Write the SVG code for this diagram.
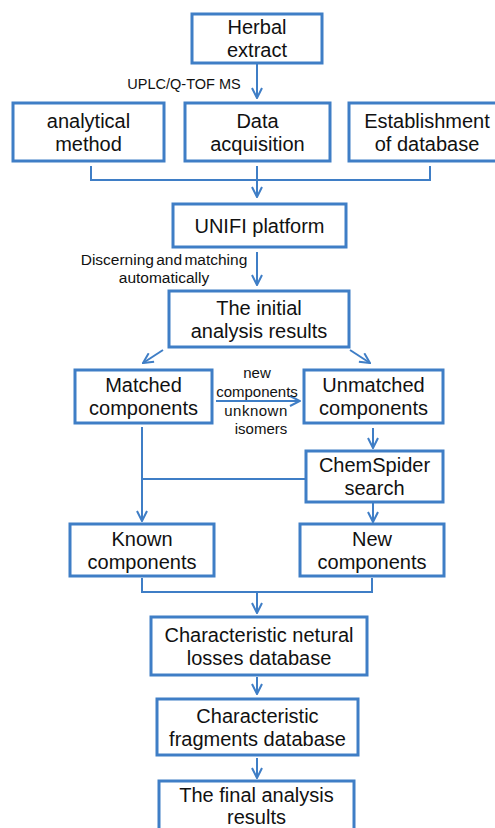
<svg xmlns="http://www.w3.org/2000/svg" width="495" height="828" viewBox="0 0 495 828">
<defs>
<marker id="arr" viewBox="0 0 12 12" refX="11" refY="6" markerWidth="12" markerHeight="12" markerUnits="userSpaceOnUse" orient="auto">
<path d="M1,1 L11,6 L1,11" fill="none" stroke="#3f7ec6" stroke-width="2"/>
</marker>
<style>
.box{fill:#fff;stroke:#3f7ec6;stroke-width:3}
.t{font-family:"Liberation Sans",Arial,sans-serif;font-size:20px;fill:#111;text-anchor:middle}
.s{font-family:"Liberation Sans",Arial,sans-serif;font-size:15px;fill:#111;text-anchor:middle}
.c{fill:none;stroke:#3f7ec6;stroke-width:2}
</style>
</defs>
<rect width="495" height="828" fill="#fff"/>
<g id="connectors">
<path class="c" d="M257,63 V98" marker-end="url(#arr)"/>
<path class="c" d="M91,166 V180 H430 V166"/>
<path class="c" d="M257,166 V197" marker-end="url(#arr)"/>
<path class="c" d="M257,252 V285" marker-end="url(#arr)"/>
<path class="c" d="M163,350 L143,363" marker-end="url(#arr)"/>
<path class="c" d="M350,350 L370,363" marker-end="url(#arr)"/>
<path class="c" d="M216,401 H300" marker-end="url(#arr)"/>
<path class="c" d="M142,427 V521" marker-end="url(#arr)"/>
<path class="c" d="M305,479 H142"/>
<path class="c" d="M373,428 V448" marker-end="url(#arr)"/>
<path class="c" d="M373,502 V522" marker-end="url(#arr)"/>
<path class="c" d="M142,578 V592 H372 V578"/>
<path class="c" d="M257,592 V613" marker-end="url(#arr)"/>
<path class="c" d="M257,677 V694" marker-end="url(#arr)"/>
<path class="c" d="M257,758 V778" marker-end="url(#arr)"/>
<text class="s" x="184" y="89" style="font-size:14.5px">UPLC/Q-TOF MS</text>
<text class="s" x="164" y="265" style="font-size:15.5px" word-spacing="-2">Discerning and matching</text>
<text class="s" x="164" y="283" style="font-size:15.5px">automatically</text>
<text class="s" x="257" y="378">new</text>
<text class="s" x="257" y="397">components</text>
<text class="s" x="256" y="416" letter-spacing="0.5">unknown</text>
<text class="s" x="261" y="434">isomers</text>
</g>
<g id="herbal"><rect class="box" x="192" y="14" width="130" height="49"/><text class="t" x="257" y="34">Herbal</text><text class="t" x="257" y="57">extract</text></g>
<g id="analytical"><rect class="box" x="13" y="103" width="151" height="58"/><text class="t" x="88.5" y="127.5">analytical</text><text class="t" x="88.5" y="150.5">method</text></g>
<g id="data"><rect class="box" x="185" y="103" width="145" height="58"/><text class="t" x="257.5" y="127.5">Data</text><text class="t" x="257.5" y="150.5">acquisition</text></g>
<g id="establishment"><rect class="box" x="349" y="103" width="148" height="58"/><text class="t" x="427" y="127.5">Establishment</text><text class="t" x="427" y="150.5">of database</text></g>
<g id="unifi"><rect class="box" x="173" y="204" width="173" height="43"/><text class="t" x="259.5" y="233">UNIFI platform</text></g>
<g id="initial"><rect class="box" x="169" y="291" width="180" height="56"/><text class="t" x="259" y="315">The initial</text><text class="t" x="259" y="338">analysis results</text></g>
<g id="matched"><rect class="box" x="75" y="370" width="137" height="53"/><text class="t" x="143.5" y="392">Matched</text><text class="t" x="143.5" y="415">components</text></g>
<g id="unmatched"><rect class="box" x="304" y="370" width="139" height="53"/><text class="t" x="373.5" y="392">Unmatched</text><text class="t" x="373.5" y="415">components</text></g>
<g id="chemspider"><rect class="box" x="306" y="451" width="137" height="51"/><text class="t" x="374.5" y="472">ChemSpider</text><text class="t" x="374.5" y="495">search</text></g>
<g id="known"><rect class="box" x="70" y="524" width="144" height="52"/><text class="t" x="142" y="546">Known</text><text class="t" x="142" y="569">components</text></g>
<g id="new"><rect class="box" x="300" y="524" width="144" height="52"/><text class="t" x="372" y="546">New</text><text class="t" x="372" y="569">components</text></g>
<g id="netural"><rect class="box" x="151" y="617" width="216" height="58"/><text class="t" x="259" y="641.5">Characteristic netural</text><text class="t" x="259" y="664.5">losses database</text></g>
<g id="fragments"><rect class="box" x="157" y="699" width="201" height="56"/><text class="t" x="257.5" y="722.5">Characteristic</text><text class="t" x="257.5" y="745.5">fragments database</text></g>
<g id="final"><rect class="box" x="159" y="781" width="195" height="60"/><text class="t" x="256.5" y="802">The final analysis</text><text class="t" x="256.5" y="824">results</text></g>
</svg>
